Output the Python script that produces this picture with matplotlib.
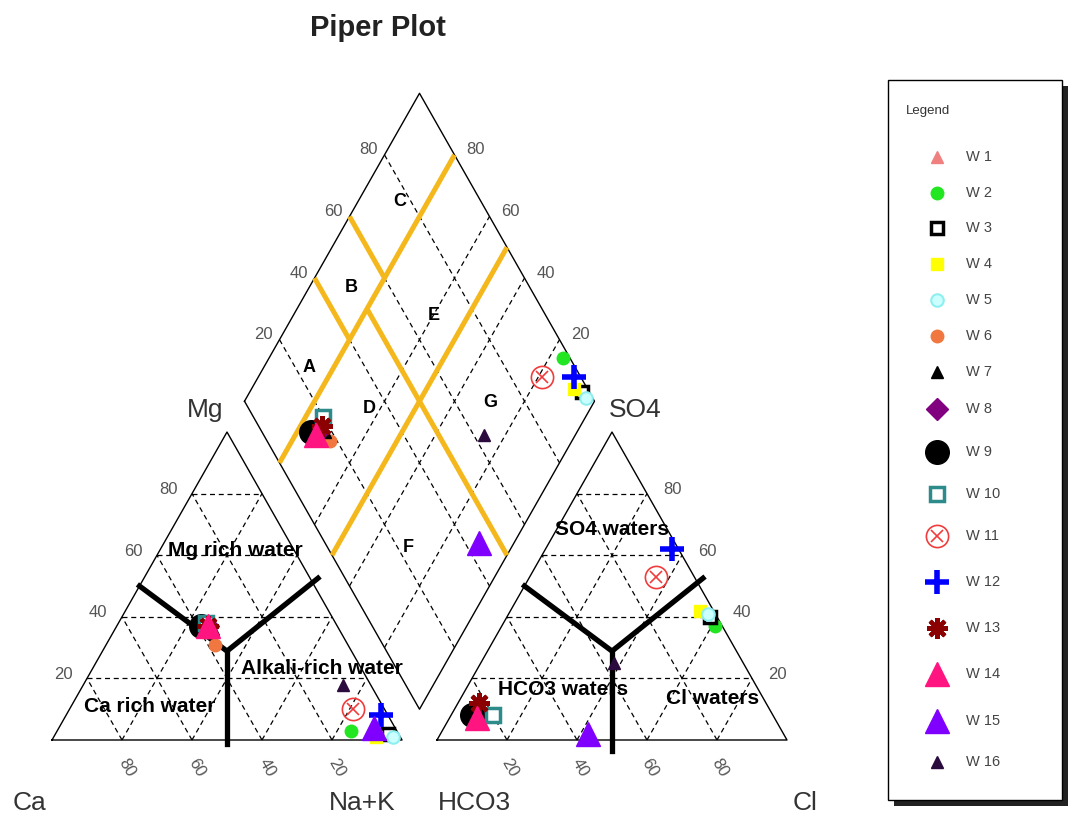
import numpy as np
import matplotlib
matplotlib.use('Agg')
import matplotlib.pyplot as plt
from matplotlib.patches import Rectangle

# well names and ionic composition in % meq
wells = ['W 1', 'W 2', 'W 3', 'W 4', 'W 5', 'W 6', 'W 7', 'W 8',
         'W 9', 'W 10', 'W 11', 'W 12', 'W 13', 'W 14', 'W 15', 'W 16']
ca = [38, 13, 3, 7, 2, 38, 36, 37, 39, 37, 9, 2, 37, 37, 6, 8]
mg = [35, 3, 2, 1, 1, 31, 36, 37, 37, 38, 10, 8, 37, 37, 4, 18]
nak = [27, 84, 95, 92, 97, 31, 28, 26, 24, 25, 81, 90, 26, 26, 90, 74]
hco3 = [83, 2, 2, 4, 2, 82, 82, 84, 86, 80, 11, 2, 82, 85, 56, 37]
so4 = [8, 37, 40, 42, 41, 8, 9, 8, 8, 8, 53, 62, 12, 7, 2, 25]
cl = [9, 61, 58, 54, 57, 10, 9, 8, 6, 12, 36, 36, 6, 8, 42, 38]

ticks = [20, 40, 60, 80]

# marker style for each well: marker, size, face, edge, edge width
styles = [
    ('^', 9, '#F08080', '#F08080', 1),
    ('o', 9, '#22E622', '#22E622', 1),
    ('s', 8, 'white', 'black', 2.5),
    ('s', 9, '#FFFF00', '#FFFF00', 1),
    ('o', 9, '#CCFFFF', '#8FEFEF', 1.5),
    ('o', 9, '#F07840', '#F07840', 1),
    ('^', 9, 'black', 'black', 1),
    ('D', 11, '#800080', '#800080', 1),
    ('o', 17, 'black', 'black', 1),
    ('s', 10, 'white', '#2E8B8B', 2.5),
    ('o', 16, 'none', '#F03C3C', 1.2),
    ('+', 17, '#0000FF', '#0000FF', 4),
    ((8, 2, 0), 15, '#8B0000', '#8B0000', 3),
    ('^', 17, '#FF1480', '#FF1480', 1),
    ('^', 17, '#8000FF', '#8000FF', 1),
    ('^', 9, '#2B0A3D', '#2B0A3D', 1),
]

S3 = np.sqrt(3) / 2
OFF = 110  # x offset of the anion triangle


def cat_xy(m, n):
    return n + m / 2, m * S3


def an_xy(s, c):
    return OFF + c + s / 2, s * S3


def dia_xy(n, a):
    # n = Na+K %, a = SO4+Cl %
    return (OFF + a + n) / 2, S3 * (OFF + a - n)


plt.rcParams['font.family'] = ['Liberation Sans', 'DejaVu Sans']

fig = plt.figure(figsize=(10.72, 8.21), dpi=100)
ax = fig.add_axes([0, 0, 1, 1])
ax.set_xlim(-52 / 3.5, 1020 / 3.5)
ax.set_ylim(-81 / 3.556, 740 / 3.556)
ax.axis('off')

dash = dict(color='black', lw=0.9, ls=(0, (4, 3)), zorder=1)
edge = dict(color='black', lw=1.0, zorder=2)

# outlines
ax.plot([0, 100, 50, 0], [0, 0, 100 * S3, 0], **edge)
ax.plot([OFF, OFF + 100, OFF + 50, OFF], [0, 0, 100 * S3, 0], **edge)
dv = [dia_xy(0, 0), dia_xy(0, 100), dia_xy(100, 100), dia_xy(100, 0), dia_xy(0, 0)]
ax.plot([p[0] for p in dv], [p[1] for p in dv], **edge)

# dashed grids
for v in ticks:
    for f in (cat_xy, an_xy):
        for p, q in [(f(v, 0), f(v, 100 - v)), (f(0, v), f(100 - v, v)),
                     (f(0, 100 - v), f(100 - v, 0))]:
            ax.plot([p[0], q[0]], [p[1], q[1]], **dash)
    for p, q in [(dia_xy(v, 0), dia_xy(v, 100)), (dia_xy(0, v), dia_xy(100, v))]:
        ax.plot([p[0], q[0]], [p[1], q[1]], **dash)

# tick labels
tk = dict(fontsize=12, color='#555555', ha='center', va='center',
          textcoords='offset pixels', zorder=4)
for v in ticks:
    ax.annotate(str(100 - v), cat_xy(0, v), xytext=(5, -28), rotation=-60, **tk)
    ax.annotate(str(v), cat_xy(v, 0), xytext=(-24, 4), **tk)
    ax.annotate(str(v), an_xy(0, v), xytext=(3, -28), rotation=-60, **tk)
    ax.annotate(str(v), an_xy(v, 100 - v), xytext=(25, 4), **tk)
    ax.annotate(str(v), dia_xy(0, v), xytext=(-16, 5), **tk)
    ax.annotate(str(v), dia_xy(100 - v, 100), xytext=(21, 5), **tk)

# orange facies lines in the diamond (n, a)
orange = [((20, 0), (20, 100)), ((50, 0), (50, 100)), ((0, 60), (20, 60)),
          ((0, 40), (20, 40)), ((20, 50), (100, 50))]
for p, q in orange:
    p, q = dia_xy(*p), dia_xy(*q)
    ax.plot([p[0], q[0]], [p[1], q[1]], color='#F4B81C', lw=3.6,
            solid_capstyle='butt', zorder=3)

# black dividing lines
for x0, yb in [(0, -1), (OFF, -3)]:
    ax.plot([x0 + 25, x0 + 50, x0 + 76], [50 * S3, 25, 45.5], color='black',
            lw=3.8, zorder=3, solid_joinstyle='miter')
    ax.plot([x0 + 50, x0 + 50], [25, yb], color='black', lw=3.8, zorder=3)

# zone labels
zt = dict(fontsize=15, fontweight='bold', ha='center', va='center', zorder=4)
ax.text(52.3, 53.4, 'Mg rich water', **zt)
ax.text(77.1, 20.2, 'Alkali-rich water', **zt)
ax.text(28, 9.3, 'Ca rich water', **zt)
ax.text(160, 59.1, 'SO4 waters', **zt)
ax.text(146, 14.1, 'HCO3 waters', **zt)
ax.text(188.6, 11.8, 'Cl waters', **zt)
zones = {'A': (13, 24), 'B': (12, 49), 'C': (12, 77), 'D': (37, 34.5),
         'E': (40, 68), 'F': (70.5, 23), 'G': (70.5, 70)}
for k, (n, a) in zones.items():
    ax.text(*dia_xy(n, a), k, fontsize=13, fontweight='bold', ha='center',
            va='center', zorder=4)

# corner labels
ct = dict(fontsize=19, color='#333333', ha='center', va='center')
ax.text(-6.3, -17.7, 'Ca', **ct)
ax.text(88.6, -17.7, 'Na+K', **ct)
ax.text(120.6, -17.7, 'HCO3', **ct)
ax.text(215.1, -17.7, 'Cl', **ct)
ax.text(43.7, 92.8, 'Mg', **ct)
ax.text(166.6, 92.8, 'SO4', **ct)


def mark(a, x, y, i, z):
    m, s, fc, ec, ew = styles[i]
    a.plot(x, y, ls='none', marker=m, ms=s, mfc=fc, mec=ec, mew=ew, zorder=z)
    if i == 10:
        a.plot(x, y, ls='none', marker='x', ms=s * 0.55, mec=ec, mew=ew, zorder=z)


# data points in the three fields
for i in range(len(wells)):
    z = 5 + i * 0.1
    mark(ax, *cat_xy(mg[i], nak[i]), i, z)
    mark(ax, *an_xy(so4[i], cl[i]), i, z)
    mark(ax, *dia_xy(nak[i], so4[i] + cl[i]), i, z)

# overlay in pixel coordinates for title and legend
lax = fig.add_axes([0, 0, 1, 1])
lax.set_xlim(0, 1072)
lax.set_ylim(821, 0)
lax.axis('off')
lax.patch.set_visible(False)

lax.text(378, 28, 'Piper Plot', fontsize=21, fontweight='bold', color='#222222',
         ha='center', va='center')

lax.add_patch(Rectangle((894, 86), 174, 720, facecolor='#222222', edgecolor='none'))
lax.add_patch(Rectangle((888, 80), 174, 720, facecolor='white', edgecolor='black', lw=1))
lax.text(906, 111, 'Legend', fontsize=9.5, color='#333333', va='center')

y = 157
for i in range(len(wells)):
    mark(lax, 937, y, i, 5)
    lax.text(966, y, wells[i], fontsize=10.5, color='#444444', va='center')
    if i + 1 < len(wells):
        y += 23.5 + (styles[i][1] + styles[i + 1][1]) / 2 * 1.389

fig.savefig('out.png', dpi=100)
